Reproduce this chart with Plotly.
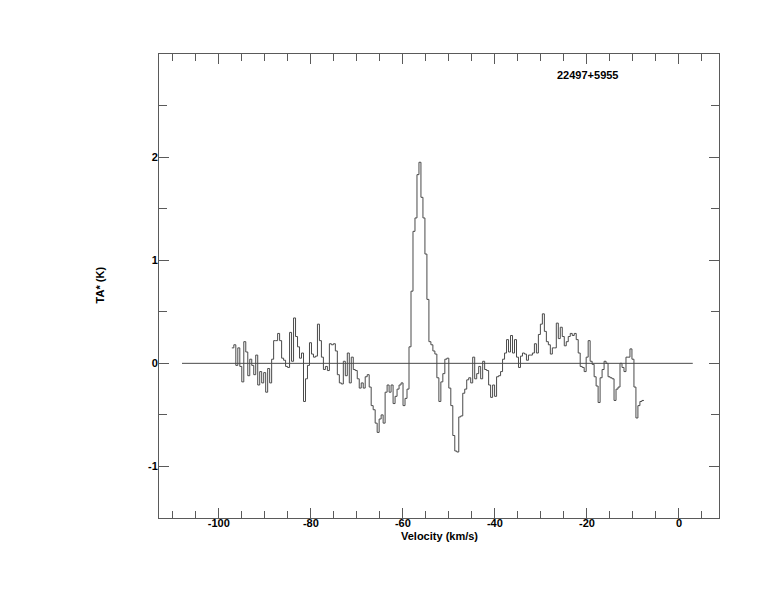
import numpy as np
import plotly.graph_objects as go

# ---- data ----
SOURCE = "22497+5955"
V_START = -97.17      # left edge of first channel (km/s)
DV = 0.4326           # channel width (km/s)
TA = [
    0.15, 0.18, -0.02, 0.15, -0.03, -0.18, 0.21, 0.11, -0.12, 0.04,
    -0.02, -0.11, 0.08, -0.21, -0.08, -0.19, -0.09, -0.28, -0.05, -0.19,
    0.04, 0.22, 0.22, 0.29, 0.22, 0.05, 0.03, -0.03, -0.04, 0.30,
    0.02, 0.44, 0.26, 0.16, 0.05, 0.10, -0.37, -0.15, -0.02, 0.20,
    0.09, 0.06, 0.07, 0.38, 0.22, 0.06, -0.06, -0.03, -0.07, 0.19,
    0.18, 0.19, 0.12, -0.11, -0.19, -0.20, 0.02, -0.12, 0.10, -0.19,
    0.06, -0.06, -0.07, -0.15, -0.24, -0.19, -0.24, -0.13, -0.11, -0.23,
    -0.41, -0.45, -0.58, -0.67, -0.54, -0.50, -0.58, -0.28, -0.21, -0.28,
    -0.21, -0.39, -0.32, -0.25, -0.21, -0.19, -0.41, -0.34, -0.25, 0.16,
    0.70, 1.28, 1.41, 1.83, 1.95, 1.61, 1.41, 1.06, 0.62, 0.21,
    0.18, 0.12, 0.09, -0.14, -0.37, -0.18, -0.10, 0.04, 0.05, -0.24,
    -0.41, -0.70, -0.85, -0.86, -0.52, -0.51, -0.29, -0.25, -0.16, -0.14,
    -0.19, 0.06, -0.15, -0.10, -0.03, -0.15, 0.02, -0.06, -0.07, -0.21,
    -0.33, -0.21, -0.32, -0.13, -0.12, -0.08, 0.04, 0.10, 0.23, 0.11,
    0.27, 0.10, 0.23, 0.06, -0.04, 0.07, 0.10, 0.09, 0.03, 0.08,
    0.08, 0.10, 0.19, 0.10, 0.28, 0.38, 0.48, 0.31, 0.21, 0.18,
    0.09, 0.15, 0.15, 0.39, 0.24, 0.35, 0.26, 0.17, 0.21, 0.26,
    0.29, 0.27, 0.29, 0.23, 0.10, -0.03, -0.04, -0.08, 0.06, 0.22,
    0.02, -0.01, -0.13, -0.22, -0.38, -0.14, -0.06, 0.02, 0.00, -0.13,
    -0.14, -0.15, -0.36, -0.25, -0.23, 0.00, -0.04, -0.08, 0.06, 0.06,
    0.14, 0.04, -0.23, -0.53, -0.41, -0.37, -0.36,
]
BASE_X = [-108.0, 3.0]
BASE_Y = [0.0, 0.0]
X_RANGE = [-113.0, 8.7]
Y_RANGE = [-1.5, 3.0]
X_TICKS = [-100, -80, -60, -40, -20, 0]
X_LABELS = ["-100", "-80", "-60", "-40", "-20", "0"]
Y_TICKS = [-1, 0, 1, 2]
Y_LABELS = ["-1", "0", "1", "2"]

LINE = "#4a4a4a"
FRAME = "#5a5a5a"
FONT = "Liberation Sans"

edges = V_START + DV * np.arange(len(TA) + 1)
yvals = TA + [TA[-1]]

fig = go.Figure()
fig.add_trace(go.Scatter(x=BASE_X, y=BASE_Y, mode="lines",
                         line=dict(color=LINE, width=1), hoverinfo="skip",
                         showlegend=False))
fig.add_trace(go.Scatter(x=edges, y=yvals, mode="lines",
                         line=dict(color=LINE, width=1, shape="hv"),
                         showlegend=False))

tickfont = dict(family=FONT, size=11, color="black", weight="bold")

fig.update_xaxes(range=X_RANGE, showline=True, linecolor=FRAME, linewidth=1,
                 mirror="ticks", ticks="inside", ticklen=10, tickcolor=FRAME,
                 tickmode="array", tickvals=X_TICKS, ticktext=X_LABELS,
                 ticklabelstandoff=-5,
                 minor=dict(ticks="inside", ticklen=7, tickcolor=FRAME,
                            tickmode="linear", tick0=0, dtick=5),
                 showgrid=False, zeroline=False, tickfont=tickfont)
fig.update_yaxes(range=Y_RANGE, showline=True, linecolor=FRAME, linewidth=1,
                 mirror="ticks", ticks="inside", ticklen=10, tickcolor=FRAME,
                 tickmode="array", tickvals=Y_TICKS, ticktext=Y_LABELS,
                 ticklabelstandoff=-2,
                 minor=dict(ticks="inside", ticklen=8, tickcolor=FRAME,
                            tickmode="linear", tick0=0, dtick=0.5),
                 showgrid=False, zeroline=False, tickfont=tickfont)

fig.add_annotation(x=-19.9, y=2.8, xref="x", yref="y", text=SOURCE,
                   showarrow=False, font=dict(family=FONT, size=11,
                                              color="black", weight="bold"))
fig.add_annotation(x=-52, y=-0.038, xref="x", yref="paper",
                   text="Velocity (km/s)", showarrow=False,
                   yanchor="middle",
                   font=dict(family=FONT, size=11, color="black",
                             weight="bold"))
fig.add_annotation(x=-0.12, y=0.503, xref="paper", yref="paper",
                   text="TA* (K)", showarrow=False, textangle=-90,
                   font=dict(family=FONT, size=11, color="black",
                             weight="bold"))

fig.update_layout(width=774, height=612,
                  margin=dict(l=151, r=63, t=46, b=102),
                  paper_bgcolor="white", plot_bgcolor="white",
                  showlegend=False)

fig.write_html("out.html")
